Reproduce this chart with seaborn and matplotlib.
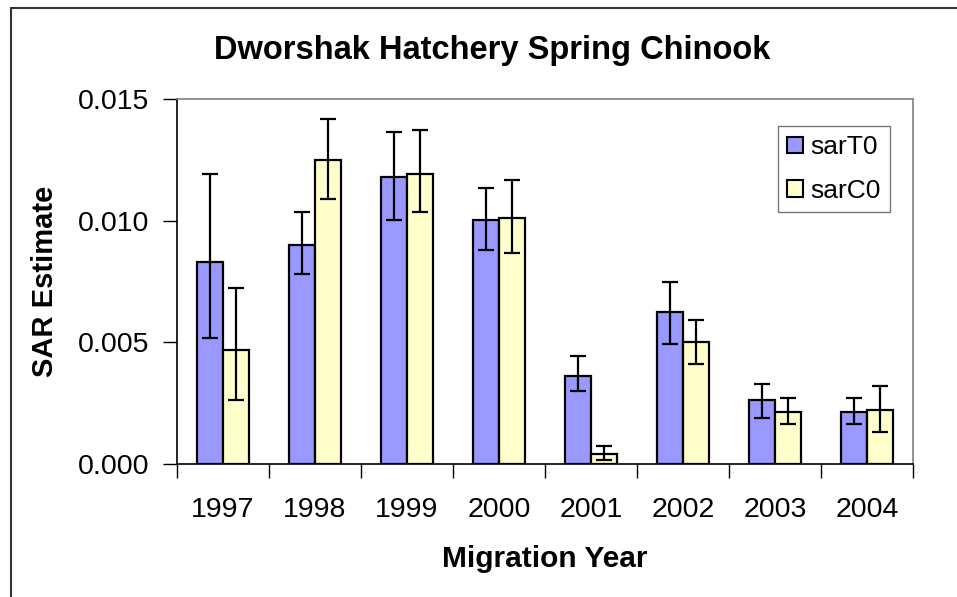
import pandas as pd
import matplotlib.pyplot as plt
import numpy as np
import seaborn as sns
from matplotlib.lines import Line2D
from matplotlib.ticker import FixedLocator, FormatStrFormatter

# values
years = ["1997", "1998", "1999", "2000", "2001", "2002", "2003", "2004"]
series = ["sarT0", "sarC0"]

sarT0 = [0.00829, 0.00902, 0.01180, 0.01001, 0.00362, 0.00624, 0.00263, 0.00214]
sarT0_lo = [0.00516, 0.00779, 0.01001, 0.00878, 0.00301, 0.00492, 0.00188, 0.00163]
sarT0_hi = [0.01191, 0.01034, 0.01363, 0.01133, 0.00442, 0.00746, 0.00329, 0.00271]

sarC0 = [0.00468, 0.01249, 0.01190, 0.01011, 0.00041, 0.00500, 0.00214, 0.00222]
sarC0_lo = [0.00262, 0.01091, 0.01034, 0.00868, 0.00015, 0.00410, 0.00163, 0.00131]
sarC0_hi = [0.00722, 0.01420, 0.01372, 0.01167, 0.00073, 0.00592, 0.00271, 0.00320]

colors = ["#9999FF", "#FFFFCC"]

df = pd.DataFrame({
    "year": years * 2,
    "series": [series[0]] * len(years) + [series[1]] * len(years),
    "value": sarT0 + sarC0,
})
lows = [sarT0_lo, sarC0_lo]
highs = [sarT0_hi, sarC0_hi]
vals = [sarT0, sarC0]

sns.set_style("white")
plt.rcParams["font.family"] = ["Liberation Sans", "DejaVu Sans"]
plt.rcParams.update({"text.color": "black", "axes.labelcolor": "black",
                     "xtick.color": "black", "ytick.color": "black"})

fig = plt.figure(figsize=(9.57, 5.97), dpi=100)
ax = fig.add_axes([0.185, 0.223, 0.769, 0.611])

sns.barplot(data=df, x="year", y="value", hue="series", order=years,
            hue_order=series, palette=colors, width=0.56, errorbar=None,
            edgecolor="black", linewidth=1.6, saturation=1, ax=ax)

# asymmetric error bars at the bar centres
for cont, v, lo, hi in zip(ax.containers, vals, lows, highs):
    xs = [p.get_x() + p.get_width() / 2 for p in cont.patches]
    v = np.array(v)
    yerr = [v - np.array(lo), np.array(hi) - v]
    ax.errorbar(xs, v, yerr=yerr, fmt="none", ecolor="black",
                elinewidth=1.6, capsize=6, capthick=1.6, zorder=5)

ax.set_ylim(0, 0.015)
ax.set_xlim(-0.5, len(years) - 0.5)
ax.yaxis.set_major_locator(FixedLocator([0, 0.005, 0.010, 0.015]))
ax.yaxis.set_major_formatter(FormatStrFormatter("%.3f"))
ax.tick_params(axis="y", which="major", direction="out", length=10, width=1,
               labelsize=20.5, pad=10, left=True, color="black")
ax.set_xticks(range(len(years)))
ax.set_xticklabels(years)
ax.set_xticks(np.arange(-0.5, len(years), 1.0), minor=True)
ax.tick_params(axis="x", which="major", length=0, labelsize=20.5, pad=24)
ax.tick_params(axis="x", which="minor", direction="out", length=10, width=1,
               bottom=True, color="black")

for side in ["left", "bottom"]:
    ax.spines[side].set_color("black")
    ax.spines[side].set_linewidth(1.2)
for side in ["top", "right"]:
    ax.spines[side].set_color("#808080")
    ax.spines[side].set_linewidth(1.2)

ax.set_xlabel("Migration Year", fontsize=21.5, fontweight="bold")
ax.set_ylabel("SAR Estimate", fontsize=21, fontweight="bold")
ax.xaxis.set_label_coords(0.5, -0.222)
ax.yaxis.set_label_coords(-0.16, 0.5)

fig.text(0.514, 0.916, "Dworshak Hatchery Spring Chinook", fontsize=23.5,
         fontweight="bold", ha="center", va="center")

leg = ax.legend(loc="upper right", bbox_to_anchor=(0.969, 0.926),
                borderaxespad=0, fontsize=19, frameon=True, fancybox=False,
                handlelength=0.6, handleheight=0.6, handletextpad=0.3,
                labelspacing=0.75, borderpad=0.35)
leg.get_frame().set_edgecolor("#555555")
leg.get_frame().set_linewidth(1.0)
for h in leg.legend_handles:
    h.set_edgecolor("black")
    h.set_linewidth(1.5)

# outer chart border (left and top edges visible)
fig.add_artist(Line2D([0.012, 0.012], [0, 0.987], color="#333333", lw=1.5))
fig.add_artist(Line2D([0.012, 1.0], [0.987, 0.987], color="#333333", lw=1.5))

fig.savefig("out.png", dpi=100)
